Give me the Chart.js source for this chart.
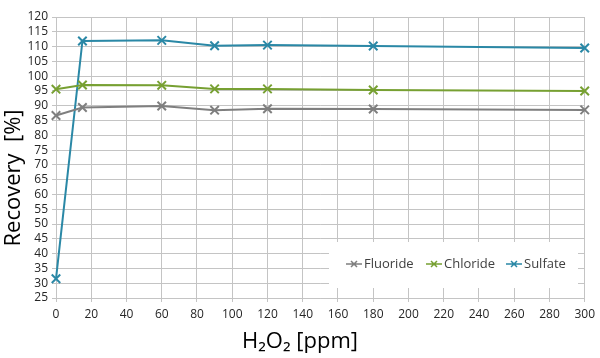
<!DOCTYPE html>
<html>
<head>
<meta charset="utf-8">
<script src="https://cdn.jsdelivr.net/npm/chart.js@4"></script>
<style>
    html, body { margin: 0; padding: 0; background: #fff; }
    #wrap { width: 600px; height: 358px; position: relative; }
</style>
</head>
<body>
<div id="wrap"><canvas id="chart"></canvas></div>
<script>
// H2O2 concentrations [ppm]
const doses = [0, 15, 60, 90, 120, 180, 300];
// recovery values [%]
const fluoride = [86.7, 89.4, 89.9, 88.5, 89.0, 88.9, 88.6];
const chloride = [95.6, 97.0, 96.9, 95.7, 95.7, 95.3, 95.0];
const sulfate = [31.5, 111.9, 112.1, 110.3, 110.5, 110.2, 109.5];
const seriesNames = ["Fluoride", "Chloride", "Sulfate"];
const seriesColors = ["#7f7f7f", "#77a032", "#2a88a6"];
const xTitle = "H₂O₂ [ppm]";
const yTitle = "Recovery  [%]";

const font = "'Open Sans', 'DejaVu Sans', sans-serif";

const pts = vals => doses.map((d, i) => ({ x: d, y: vals[i] }));

// legend box inside the plot area + axis titles centred like the original
const boxLegend = {
    id: "boxLegend",
    afterDraw(chart) {
        const ctx = chart.ctx;
        const x0 = 329, y0 = 242, w = 249, h = 46;
        ctx.save();
        ctx.fillStyle = "#fff";
        ctx.fillRect(x0, y0, w, h);
        ctx.font = "13px " + font;
        ctx.textBaseline = "middle";
        const cy = y0 + 22;
        const starts = [346, 426, 506];
        chart.data.datasets.forEach((ds, i) => {
            const lx = starts[i];
            ctx.strokeStyle = ds.borderColor;
            ctx.lineWidth = 1.5;
            ctx.beginPath();
            ctx.moveTo(lx, cy);
            ctx.lineTo(lx + 16, cy);
            ctx.moveTo(lx + 5, cy - 3);
            ctx.lineTo(lx + 11, cy + 3);
            ctx.moveTo(lx + 5, cy + 3);
            ctx.lineTo(lx + 11, cy - 3);
            ctx.stroke();
            ctx.fillStyle = "#404040";
            ctx.fillText(ds.label, lx + 18, cy);
        });

        ctx.fillStyle = "#000";
        ctx.font = "22px " + font;
        ctx.textAlign = "center";
        ctx.fillText(xTitle, 300, 342);
        ctx.translate(14, 178);
        ctx.rotate(-Math.PI / 2);
        ctx.fillText(yTitle, 0, 0);
        ctx.restore();
    }
};

new Chart(document.getElementById("chart"), {
    type: "line",
    data: {
        datasets: [fluoride, chloride, sulfate].map((vals, i) => ({
            label: seriesNames[i],
            data: pts(vals),
            borderColor: seriesColors[i],
            backgroundColor: seriesColors[i],
            borderWidth: 2,
            pointStyle: "crossRot",
            pointRadius: 6,
            pointBorderWidth: 2,
            tension: 0,
            clip: false
        }))
    },
    options: {
        responsive: true,
        maintainAspectRatio: false,
        animation: false,
        layout: { padding: { top: 17, right: 13, left: 0, bottom: 0 } },
        plugins: { legend: { display: false }, tooltip: { enabled: false } },
        scales: {
            x: {
                type: "linear",
                min: 0,
                max: 300,
                ticks: { stepSize: 20, autoSkip: false, maxRotation: 0, color: "#262626", font: { family: font, size: 12 }, padding: 5 },
                grid: { color: "#c4c4c4", tickLength: 4 },
                border: { color: "#c4c4c4" },
                afterFit: s => { s.height = 60; }
            },
            y: {
                min: 25,
                max: 120,
                ticks: { stepSize: 5, autoSkip: false, color: "#262626", font: { family: font, size: 12 }, padding: 4 },
                grid: { color: "#c4c4c4", tickLength: 4 },
                border: { color: "#c4c4c4" },
                afterFit: s => { s.width = 56; }
            }
        }
    },
    plugins: [boxLegend]
});
</script>
</body>
</html>
